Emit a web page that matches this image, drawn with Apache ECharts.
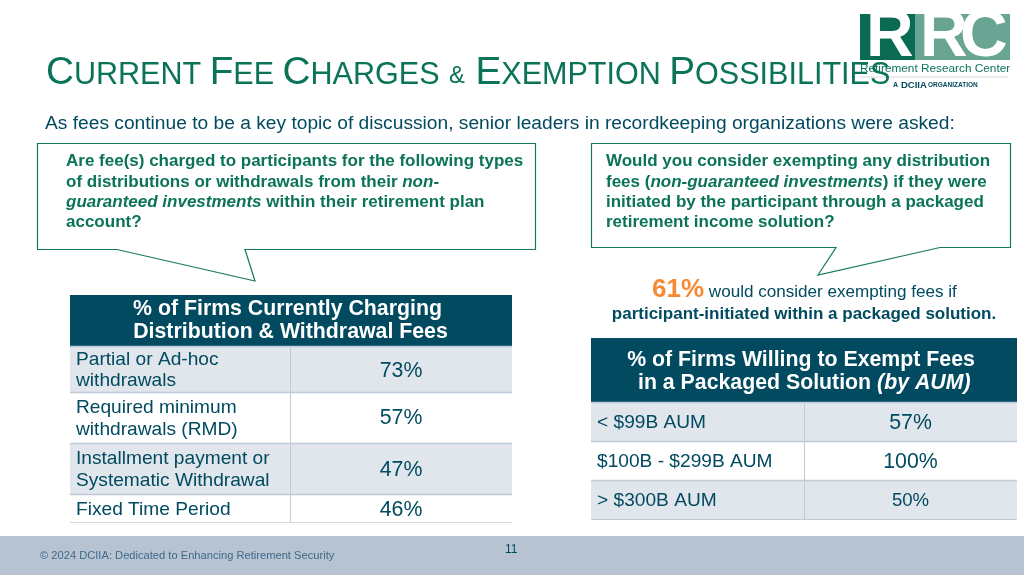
<!DOCTYPE html>
<html><head><meta charset="utf-8">
<style>html,body{margin:0;padding:0;background:#fff}#c{width:1024px;height:575px}</style>
<script src="https://cdn.jsdelivr.net/npm/echarts@6/dist/echarts.min.js"></script>
</head><body><div id="c"></div>
<script>
const leftHeader = ['% of Firms Currently Charging', 'Distribution & Withdrawal Fees'];
const leftLabels = [['Partial or Ad-hoc', 'withdrawals'], ['Required minimum', 'withdrawals (RMD)'], ['Installment payment or', 'Systematic Withdrawal'], ['Fixed Time Period']];
const leftValues = ['73%', '57%', '47%', '46%'];
const rightLabels = ['< $99B AUM', '$100B - $299B AUM', '> $300B AUM'];
const rightValues = ['57%', '100%', '50%'];

const FONT = '"Liberation Sans", Arial, sans-serif';
const GREEN = '#0b7358', NAVY = '#014a60', BAND = '#e1e5ec', RULE = '#c0cbd8';
const els = [];
function rect(x, y, w, h, fill) { els.push({ type: 'rect', shape: { x, y, width: w, height: h }, style: { fill }, silent: true }); }
function line(x1, y1, x2, y2, stroke, lineWidth) { els.push({ type: 'line', shape: { x1, y1, x2, y2 }, style: { stroke, lineWidth: lineWidth || 1 }, silent: true }); }
function text(x, y, str, size, fill, o) {
  o = o || {};
  els.push({ type: 'text', x, y, silent: true, style: Object.assign({ text: str, fontFamily: FONT, fontSize: size, fill, fontWeight: o.weight || 'normal', fontStyle: o.style || 'normal', align: o.align || 'left', verticalAlign: 'middle' }, o.rich ? { rich: o.rich } : {}) });
}
function poly(points, stroke) { els.push({ type: 'polygon', shape: { points }, style: { fill: '#fff', stroke, lineWidth: 1.2 }, silent: true }); }

// Logo
rect(860, 14, 55, 46, '#0b6b52');
rect(915, 14, 95, 46, '#6aa593');
text(866, 38, 'R', 66, '#fff', { weight: 'bold' });
text(920, 38, 'R', 66, '#fff', { weight: 'bold' });
text(960, 38, 'C', 66, '#fff', { weight: 'bold' });
line(860, 77, 1008, 77, '#d5d9dd', 1);

// Title
const big = { fontSize: 38.7, fill: GREEN, fontFamily: FONT };
const sm = { fontSize: 30.55, fill: GREEN, fontFamily: FONT, padding: [5, 0, 0, 0] };
const amp = { fontSize: 23.8, fill: GREEN, fontFamily: FONT, padding: [6, 4, 0, 1] };
text(46, 73, '{b|C}{s|URRENT }{b|F}{s|EE }{b|C}{s|HARGES }{a|& }{b|E}{s|XEMPTION }{b|P}{s|OSSIBILITIES}', 30, GREEN, { rich: { b: big, s: sm, a: amp } });

text(860, 69, 'Retirement Research Center', 11.8, GREEN);
text(893, 85, 'A ', 7, NAVY, { weight: 'bold' });
text(901, 85, 'DCIIA', 9.5, NAVY, { weight: 'bold' });
text(928, 85, 'ORGANIZATION', 6.5, NAVY, { weight: 'bold' });

text(45, 124, 'As fees continue to be a key topic of discussion, senior leaders in recordkeeping organizations were asked:', 19.2, NAVY);

// Callouts
poly([[37.5, 143.5], [535.5, 143.5], [535.5, 249.5], [245, 249.5], [255, 281], [117, 249.5], [37.5, 249.5]], '#14795f');
poly([[591.5, 143.5], [1010.5, 143.5], [1010.5, 247.5], [940, 247.5], [818, 275], [836, 247.5], [591.5, 247.5]], '#14795f');
const qFs = 17;
const gb = { fontFamily: FONT, fontSize: qFs, fill: GREEN, fontWeight: 'bold' };
const gi = { fontFamily: FONT, fontSize: qFs, fill: GREEN, fontWeight: 'bold', fontStyle: 'italic' };
const qRich = { n: gb, i: gi };
text(66, 161.5, 'Are fee(s) charged to participants for the following types', qFs, GREEN, { weight: 'bold' });
text(66, 182, '{n|of distributions or withdrawals from their }{i|non-}', qFs, GREEN, { rich: qRich });
text(66, 202, '{i|guaranteed investments}{n| within their retirement plan}', qFs, GREEN, { rich: qRich });
text(66, 222.5, 'account?', qFs, GREEN, { weight: 'bold' });
text(606, 161.5, 'Would you consider exempting any distribution', qFs, GREEN, { weight: 'bold' });
text(606, 182, '{n|fees (}{i|non-guaranteed investments}{n|) if they were}', qFs, GREEN, { rich: qRich });
text(606, 202, 'initiated by the participant through a packaged', qFs, GREEN, { weight: 'bold' });
text(606, 222.5, 'retirement income solution?', qFs, GREEN, { weight: 'bold' });

// 61% note
text(652, 290, '{o|61%}{t| would consider exempting fees if}', 16, NAVY, { rich: {
  o: { fontFamily: FONT, fontSize: 26, fontWeight: 'bold', fill: '#f58a33' },
  t: { fontFamily: FONT, fontSize: 17.1, fill: NAVY, padding: [4, 0, 0, 0] } } });
text(804, 314.5, 'participant-initiated within a packaged solution.', 17, NAVY, { weight: 'bold', align: 'center' });

// Left table
rect(70, 295, 442, 51, NAVY);
text(287.5, 309, leftHeader[0], 21.3, '#fff', { weight: 'bold', align: 'center' });
text(290.5, 332.5, leftHeader[1], 21.3, '#fff', { weight: 'bold', align: 'center' });
const lTop = [347, 393, 444, 495, 523];
leftValues.forEach((v, i) => {
  if (i % 2 === 0) rect(70, lTop[i], 442, lTop[i + 1] - lTop[i], BAND);
  const lines = leftLabels[i], mid = (lTop[i] + lTop[i + 1]) / 2;
  if (lines.length === 2) { text(76, mid - 10.5, lines[0], 19.15, NAVY); text(76, mid + 11, lines[1], 19.15, NAVY); }
  else text(76, mid + 0.5, lines[0], 19.15, NAVY);
  text(401, mid + (i === 1 ? 0 : 1), v, 21.3, NAVY, { align: 'center' });
});
lTop.slice(0, 4).forEach(y => line(70, y - 0.5, 512, y - 0.5, RULE, 1.5));
line(70, 522.5, 512, 522.5, '#d3d9e2', 1);
line(290.5, 347, 290.5, 523, RULE, 1);

// Right table
rect(591, 338, 426, 64, NAVY);
text(801, 360, '% of Firms Willing to Exempt Fees', 21.3, '#fff', { weight: 'bold', align: 'center' });
text(638, 383.5, '{n|in a Packaged Solution }{i|(by AUM)}', 21.3, '#fff', { rich: {
  n: { fontFamily: FONT, fontSize: 21.3, fontWeight: 'bold', fill: '#fff' },
  i: { fontFamily: FONT, fontSize: 21.3, fontWeight: 'bold', fontStyle: 'italic', fill: '#fff' } } });
const rTop = [403, 442, 481, 520];
const rSize = [21.3, 21.3, 18.6];
rightValues.forEach((v, i) => {
  if (i % 2 === 0) rect(591, rTop[i], 426, rTop[i + 1] - rTop[i], BAND);
  const mid = (rTop[i] + rTop[i + 1]) / 2;
  text(597, mid + 0.5, rightLabels[i], 19.15, NAVY);
  text(910.5, mid + 0.5, v, rSize[i], NAVY, { align: 'center' });
});
rTop.slice(0, 3).forEach(y => line(591, y - 0.5, 1017, y - 0.5, RULE, 1.5));
line(591, 519.5, 1017, 519.5, RULE, 1);
line(804.5, 403, 804.5, 520, RULE, 1);

// Footer
rect(0, 536, 1024, 39, '#b7c3d1');
text(40, 556, '© 2024 DCIIA: Dedicated to Enhancing Retirement Security', 11.15, '#3f6a8a');
text(505, 550, '11', 12, NAVY);

const chart = echarts.init(document.getElementById('c'), null, { renderer: 'canvas' });
chart.setOption({ animation: false, backgroundColor: '#fff', graphic: { elements: els } });
</script></body></html>
